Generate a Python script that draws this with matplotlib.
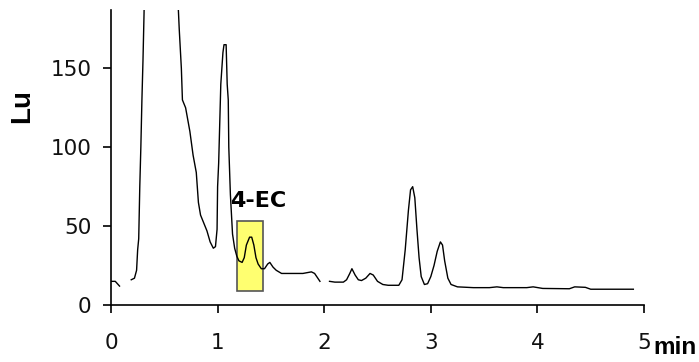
import numpy as np
import matplotlib
matplotlib.use("Agg")
import matplotlib.pyplot as plt
from matplotlib.patches import Rectangle

plt.rcParams['font.family'] = ['DejaVu Sans']

# chromatogram trace (nan = gap in the trace)
t = [0.00, 0.04, 0.08, np.nan, 0.19, 0.22, 0.24, 0.25, 0.26, 0.27, 0.28, 0.29,
     0.30, 0.31, 0.33, 0.45, 0.60, 0.63, 0.64, 0.66, 0.67, 0.70, 0.74, 0.77,
     0.80, 0.82, 0.84, 0.87, 0.90, 0.93, 0.96, 0.98, 0.995, 1.00, 1.01, 1.03,
     1.05, 1.06, 1.08, 1.09, 1.10, 1.105, 1.12, 1.14, 1.16, 1.18, 1.20, 1.23,
     1.25, 1.27, 1.30, 1.32, 1.34, 1.36, 1.38, 1.41, 1.44, 1.47, 1.49, 1.52,
     1.55, 1.60, 1.70, 1.80, 1.88, 1.91, 1.94, 1.96, np.nan, 2.05, 2.10, 2.18,
     2.21, 2.24, 2.26, 2.29, 2.32, 2.35, 2.39, 2.43, 2.46, 2.50, 2.55, 2.60,
     2.70, 2.73, 2.76, 2.79, 2.81, 2.83, 2.85, 2.87, 2.89, 2.91, 2.94, 2.97,
     3.00, 3.03, 3.06, 3.09, 3.11, 3.13, 3.16, 3.19, 3.25, 3.40, 3.55, 3.62,
     3.68, 3.90, 3.96, 4.05, 4.30, 4.35, 4.45, 4.50, 4.70, 4.90]
lu = [15, 15, 12, np.nan, 16, 17, 22, 35, 42, 75, 100, 130,
      155, 185, 260, 400, 250, 190, 175, 150, 130, 125, 110, 95,
      84, 65, 57, 52, 47, 40, 36, 37, 48, 75, 90, 140,
      160, 165, 165, 140, 130, 100, 70, 45, 36, 31, 28, 27,
      30, 38, 43, 43, 38, 30, 26, 23, 23, 26, 27, 24,
      22, 20, 20, 20, 21, 20, 17, 15, np.nan, 15, 14.5, 14.5,
      16, 20, 23, 19, 16, 15.5, 17, 20, 19, 15, 13, 12.5,
      12.5, 16, 35, 60, 73, 75, 68, 48, 30, 18, 13, 13.5,
      18, 25, 34, 40, 38, 28, 17, 13, 11.5, 11, 11, 11.5,
      11, 11, 11.5, 10.5, 10.3, 11.5, 11.2, 10, 10, 10]

xticks = [0, 1, 2, 3, 4, 5]
yticks = [0, 50, 100, 150]

fig = plt.figure(figsize=(6.99, 3.62), dpi=100)
ax = fig.add_axes([111/699, 57/362, 533/699, 295/362])

ax.plot(t, lu, color='black', lw=1.0)

# highlighted 4-EC peak
ax.add_patch(Rectangle((1.18, 9), 0.25, 44, facecolor='#ffff70',
                       edgecolor='#555555', lw=1.2, zorder=1))
ax.text(1.12, 62, '4-EC', fontsize=16, fontweight='bold', va='baseline')

ax.set_xlim(0, 5)
ax.set_ylim(0, 187)
ax.set_xticks(xticks)
ax.set_yticks(yticks)
for s in ['top', 'right']:
    ax.spines[s].set_visible(False)
for s in ['left', 'bottom']:
    ax.spines[s].set_linewidth(1.2)
ax.tick_params(direction='out', length=6, width=1.2, labelsize=15.5,
               labelcolor='#111111')
ax.tick_params(axis='x', pad=14)
ax.tick_params(axis='y', pad=8)

fig.text(22/699, 1 - 106/362, 'Lu', rotation=90, ha='center', va='center',
         fontsize=20, fontweight='bold', family='Liberation Sans')
fig.text(653/699, 1 - 354/362, 'min', ha='left', va='baseline',
         fontsize=17.5, fontweight='bold', family='Liberation Sans')

fig.savefig('out.png', dpi=100)
